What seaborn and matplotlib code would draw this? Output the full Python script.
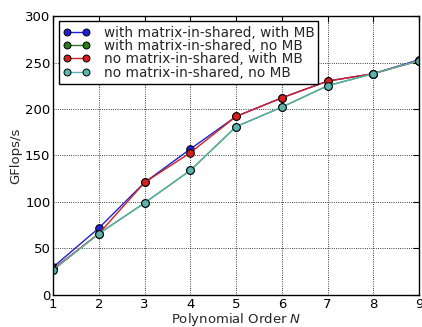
import matplotlib
matplotlib.use("Agg")
import matplotlib.pyplot as plt
import seaborn as sns
import pandas as pd
from matplotlib.lines import Line2D

orders = [1, 2, 3, 4, 5, 6, 7, 8, 9]
with_mis_with_mb = [30, 72, 121, 157, 192, 212, 230, 238, 253]
with_mis_no_mb = [27, 66, 99, 134, 181, 202, 225, 238, 252]
no_mis_with_mb = [28, 66, 121, 153, 192, 212, 230, 238, 252]
no_mis_no_mb = [27, 66, 99, 134, 181, 202, 225, 238, 252]
labels = ["with matrix-in-shared, with MB", "with matrix-in-shared, no MB",
          "no matrix-in-shared, with MB", "no matrix-in-shared, no MB"]
series = [with_mis_with_mb, with_mis_no_mb, no_mis_with_mb, no_mis_no_mb]
colors = ["#2020d0", "#2e7a1e", "#d42020", "#5cb4ae"]

rows = []
for lab, vals in zip(labels, series):
    for o, v in zip(orders, vals):
        rows.append({"order": o, "gflops": v, "config": lab})
df = pd.DataFrame(rows)

sns.set_style("white")
plt.rcParams["font.family"] = ["DejaVu Sans"]
plt.rcParams["mathtext.fontset"] = "dejavusans"

fig = plt.figure(figsize=(4.22, 3.27), dpi=100)
ax = fig.add_axes([0.126, 0.098, 0.867, 0.853])

sns.lineplot(data=df, x="order", y="gflops", hue="config", hue_order=labels,
             palette=colors, marker="o", markersize=5.5, markeredgecolor="black",
             markeredgewidth=0.7, linewidth=1.0, ax=ax, legend=False)

ax.set_xlim(1, 9)
ax.set_ylim(0, 300)
ax.set_xticks(orders)
ax.set_yticks(range(0, 301, 50))
ax.grid(True, color="black", linestyle=":", linewidth=0.6)
for s in ax.spines.values():
    s.set_color("black")
    s.set_linewidth(1.0)
ax.tick_params(direction="in", top=True, right=True, length=4, labelsize=9.5,
               colors="black", pad=2)
ax.set_xlabel("Polynomial Order $N$", fontsize=9.5, labelpad=0.5)
ax.set_ylabel("GFlops/s", fontsize=9.5, labelpad=2)

handles = [Line2D([0, 1], [0, 0], color=c, marker="o", markersize=5,
                  markeredgecolor="black", markeredgewidth=0.7, linewidth=1.0)
           for c in colors]
leg = ax.legend(handles, labels, loc="upper left", fontsize=9.8, frameon=True,
                fancybox=False, edgecolor="black", framealpha=1, numpoints=2,
                handlelength=2.0, borderpad=0.3, labelspacing=-0.05,
                handletextpad=1.0, borderaxespad=0.4)
leg.get_frame().set_linewidth(1.0)

fig.savefig("out.png", dpi=100)
